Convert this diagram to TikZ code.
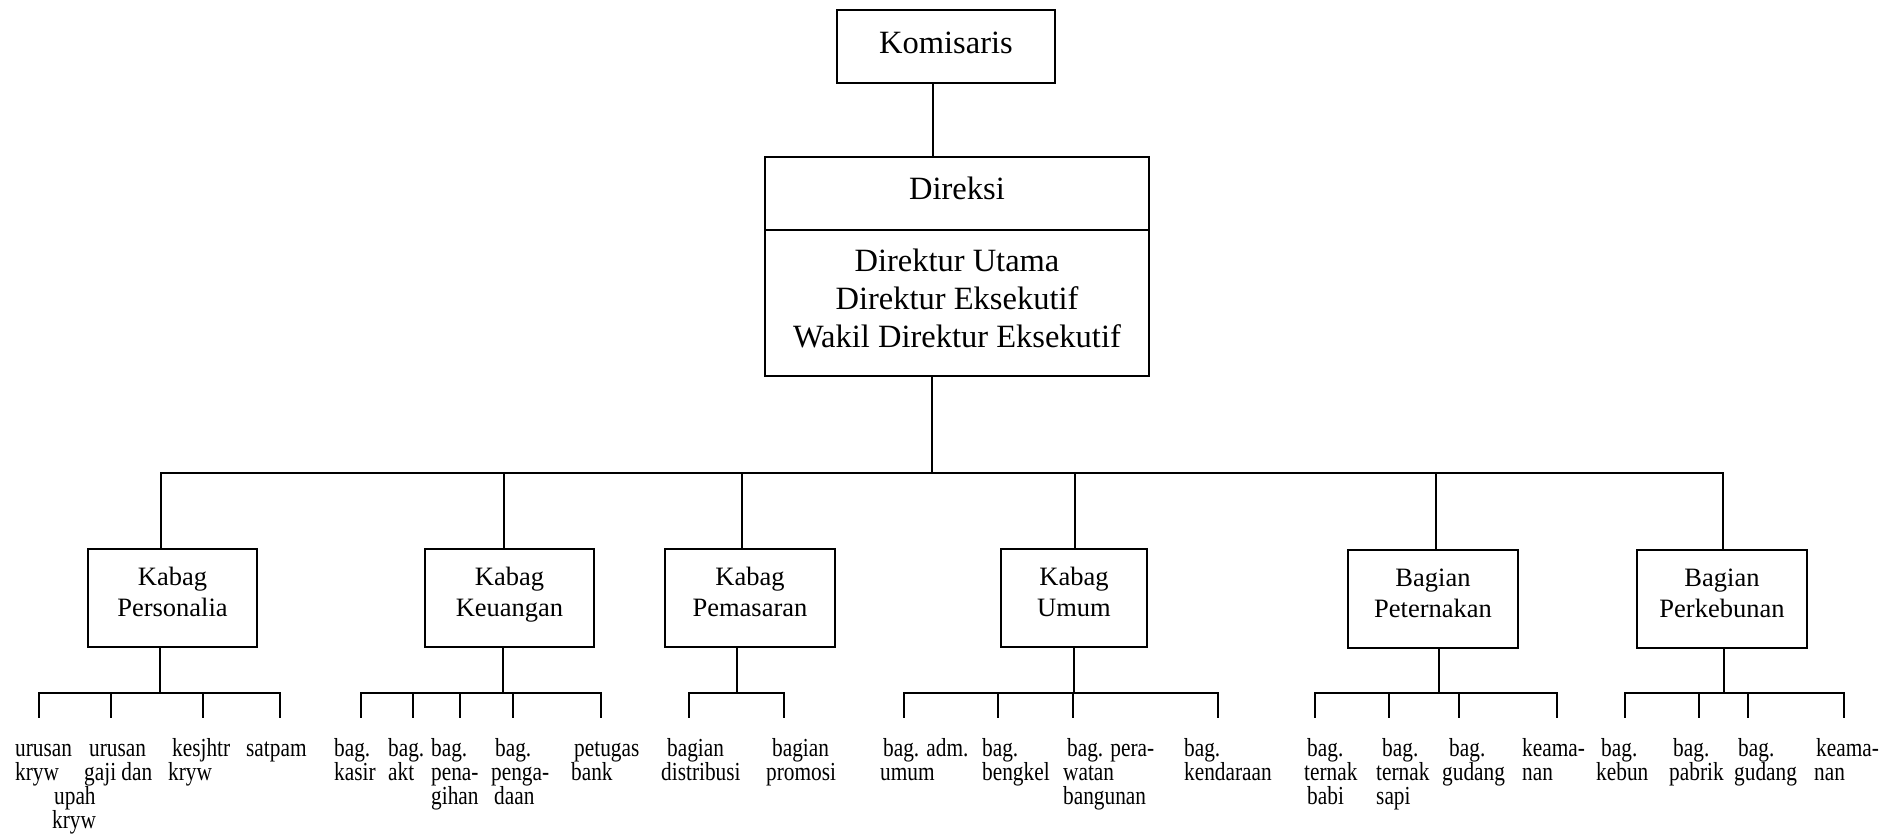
\documentclass[tikz,border=0pt]{standalone}
\usepackage{fontspec}
\setmainfont{Liberation Serif}
\newfontfamily\leaffont[FakeStretch=0.82]{Liberation Serif}
\newcommand{\dpfix}[1]{\rule[-#1]{0pt}{1pt}}
\begin{document}
\begin{tikzpicture}[x=1pt,y=-1pt,
  box/.style={draw, line width=2.6pt, inner sep=0pt, align=center},
  conn/.style={line width=2.2pt, line cap=rect},
  topfont/.style={font=\fontsize{32.5}{38}\selectfont},
  deptfont/.style={font=\fontsize{26.5}{31}\selectfont},
  leaf/.style={anchor=north west, inner sep=0pt, align=left, font=\leaffont\fontsize{26}{24}\selectfont}]
\useasboundingbox[fill=white] (0,0) rectangle (1896,833);

% top
\node[box, topfont, minimum width=218pt, minimum height=73pt] (kom) at (946,46.5) {Komisaris\dpfix{7pt}};
\node[box, topfont, minimum width=384pt, minimum height=73pt] (dirhead) at (957,193.5) {Direksi\dpfix{10pt}};
\node[box, topfont, minimum width=384pt, minimum height=146pt] (dirbody) at (957,303) {Direktur Utama\\Direktur Eksekutif\\Wakil Direktur Eksekutif\dpfix{9pt}};

% departments
\node[box, deptfont, minimum width=169pt, minimum height=98pt] (pers) at (172.5,598) {Kabag\\Personalia\dpfix{12pt}};
\node[box, deptfont, minimum width=169pt, minimum height=98pt] (keu) at (509.5,598) {Kabag\\Keuangan\dpfix{12pt}};
\node[box, deptfont, minimum width=170pt, minimum height=98pt] (pem) at (750,598) {Kabag\\Pemasaran\dpfix{12pt}};
\node[box, deptfont, minimum width=146pt, minimum height=98pt] (umum) at (1074,598) {Kabag\\Umum\dpfix{12pt}};
\node[box, deptfont, minimum width=170pt, minimum height=98pt] (pet) at (1433,599) {Bagian\\Peternakan\dpfix{12pt}};
\node[box, deptfont, minimum width=170pt, minimum height=98pt] (perk) at (1722,599) {Bagian\\Perkebunan\dpfix{12pt}};

% top connectors
\coordinate (kd) at (933,120);
\draw[conn] (kom.south -| kd) -- (dirhead.north -| kd);
\coordinate (busM) at (932,473);
\draw[conn] (dirbody.south -| busM) -- (busM);
\coordinate (busL) at (161,473);
\coordinate (busR) at (1723,473);
\draw[conn] (busL) -- (busR);
\foreach \n/\x in {pers/161, keu/504, pem/742, umum/1075, pet/1436, perk/1723} {
  \coordinate (t-\n) at (\x,473);
  \draw[conn] (t-\n) -- (t-\n |- \n.north);
}

% sub buses
\foreach \n/\x/\l/\r in {pers/160/39/280, keu/503/361/601, pem/737/689/784, umum/1074/904/1218, pet/1439/1315/1557, perk/1724/1625/1844} {
  \coordinate (s-\n) at (\x,693);
  \draw[conn] (\n.south -| s-\n) -- (s-\n);
  \coordinate (sl-\n) at (\l,693);
  \coordinate (sr-\n) at (\r,693);
  \draw[conn] (sl-\n) -- (sr-\n);
}
\foreach \x [count=\i] in {39,111,203,280, 361,413,460,513,601, 689,784, 904,998,1073,1218, 1315,1389,1459,1557, 1625,1699,1748,1844} {
  \coordinate (d\i) at (\x,717);
  \draw[conn] (d\i |- sl-pers) -- (d\i);
}

% leaves
\node[leaf] (l1) at (15,737) {\rule{0pt}{19pt}urusan\\kryw};
\node[leaf] (l2) at (52,737) {\rule{0pt}{19pt}\hspace*{37pt}urusan\\\hspace*{32pt}gaji dan\\\hspace*{2pt}upah\\kryw};
\node[leaf] (l3) at (168,737) {\rule{0pt}{19pt}\hspace*{4pt}kesjhtr\\kryw};
\node[leaf] (l4) at (246,737) {\rule{0pt}{19pt}satpam};
\node[leaf] (l5) at (334,737) {\rule{0pt}{19pt}bag.\\kasir};
\node[leaf] (l6) at (388,737) {\rule{0pt}{19pt}bag.\\akt};
\node[leaf] (l7) at (431,737) {\rule{0pt}{19pt}bag.\\pena-\\gihan};
\node[leaf] (l8) at (491,737) {\rule{0pt}{19pt}\hspace*{4pt}bag.\\penga-\\\hspace*{3pt}daan};
\node[leaf] (l9) at (571,737) {\rule{0pt}{19pt}\hspace*{3pt}petugas\\bank};
\node[leaf] (l10) at (661,737) {\rule{0pt}{19pt}\hspace*{6pt}bagian\\distribusi};
\node[leaf] (l11) at (766,737) {\rule{0pt}{19pt}\hspace*{6pt}bagian\\promosi};
\node[leaf] (l12) at (880,737) {\rule{0pt}{19pt}\hspace*{3pt}bag. adm.\\umum};
\node[leaf] (l13) at (982,737) {\rule{0pt}{19pt}bag.\\bengkel};
\node[leaf] (l14) at (1063,737) {\rule{0pt}{19pt}\hspace*{4pt}bag. pera-\\watan\\bangunan};
\node[leaf] (l15) at (1184,737) {\rule{0pt}{19pt}bag.\\kendaraan};
\node[leaf] (l16) at (1304,737) {\rule{0pt}{19pt}\hspace*{3pt}bag.\\ternak\\\hspace*{3pt}babi};
\node[leaf] (l17) at (1376,737) {\rule{0pt}{19pt}\hspace*{6pt}bag.\\ternak\\sapi};
\node[leaf] (l18) at (1442,737) {\rule{0pt}{19pt}\hspace*{7pt}bag.\\gudang};
\node[leaf] (l19) at (1522,737) {\rule{0pt}{19pt}keama-\\nan};
\node[leaf] (l20) at (1596,737) {\rule{0pt}{19pt}\hspace*{5pt}bag.\\kebun};
\node[leaf] (l21) at (1669,737) {\rule{0pt}{19pt}\hspace*{4pt}bag.\\pabrik};
\node[leaf] (l22) at (1734,737) {\rule{0pt}{19pt}\hspace*{4pt}bag.\\gudang};
\node[leaf] (l23) at (1814,737) {\rule{0pt}{19pt}\hspace*{2pt}keama-\\nan};
\end{tikzpicture}
\end{document}
